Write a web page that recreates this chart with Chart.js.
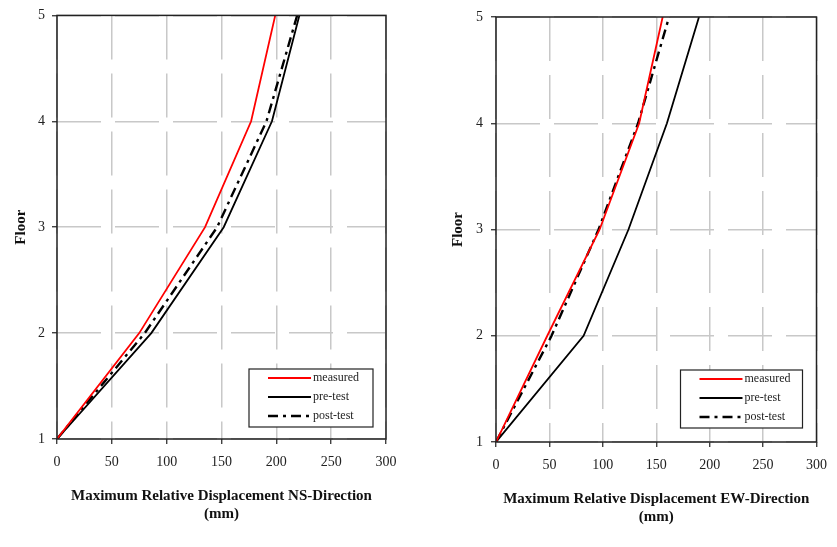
<!DOCTYPE html>
<html>
<head>
<meta charset="utf-8">
<script src="https://cdn.jsdelivr.net/npm/chart.js@4.4.1/dist/chart.umd.min.js"></script>
<style>
  html, body { margin: 0; padding: 0; background: #fff; }
  #wrap { position: relative; width: 837px; height: 547px; }
  #ns { position: absolute; left: 0; top: 0; }
  #ew { position: absolute; left: 420px; top: 0; }
</style>
</head>
<body>
<div id="wrap">
  <canvas id="ns" width="420" height="547"></canvas>
  <canvas id="ew" width="417" height="547"></canvas>
</div>
<script>
// floors (y) and max relative displacement in mm (x)
var floors = [1, 2, 3, 4, 5];
var seriesNames = ["measured", "pre-test", "post-test"];
var nsMeasured = [0, 75, 135, 177, 199];
var nsPreTest = [0, 86, 152, 196, 221];
var nsPostTest = [0, 80, 146, 191, 219];
var ewMeasured = [0, 48, 97, 134, 156];
var ewPreTest = [0, 82, 124, 160, 190];
var ewPostTest = [0, 52, 96, 133, 162];
var xTicks = [0, 50, 100, 150, 200, 250, 300];
var yTicks = [1, 2, 3, 4, 5];

var serif = "'Liberation Serif', 'Times New Roman', serif";

function pts(xs) {
    return xs.map(function (x, i) { return {x: x, y: floors[i]}; });
}

function makeSets(m, pre, post) {
    return [
        {label: seriesNames[0], data: pts(m), borderColor: "#ff0000", borderWidth: 1.8, borderDash: []},
        {label: seriesNames[1], data: pts(pre), borderColor: "#000000", borderWidth: 1.8, borderDash: []},
        {label: seriesNames[2], data: pts(post), borderColor: "#000000", borderWidth: 2.4, borderDash: [10, 5, 3, 5]}
    ];
}

// box around the whole plot area
var framePlugin = {
    id: "frame",
    afterDatasetsDraw: function (chart) {
        var a = chart.chartArea, ctx = chart.ctx;
        ctx.save();
        ctx.strokeStyle = "#222";
        ctx.lineWidth = 1.5;
        ctx.setLineDash([]);
        ctx.strokeRect(a.left, a.top, a.right - a.left, a.bottom - a.top);
        ctx.restore();
    }
};

// legend with a frame, sitting in the lower right of the plot
var boxLegend = {
    id: "boxLegend",
    afterDraw: function (chart, args, o) {
        var a = chart.chartArea, ctx = chart.ctx;
        var x = a.right - o.right - o.width, y = a.bottom - o.bottom - o.height;
        ctx.save();
        ctx.fillStyle = "#fff";
        ctx.fillRect(x, y, o.width, o.height);
        ctx.strokeStyle = "#222";
        ctx.lineWidth = 1.2;
        ctx.strokeRect(x, y, o.width, o.height);
        ctx.font = "12px " + serif;
        ctx.textBaseline = "middle";
        ctx.fillStyle = "#222";
        chart.data.datasets.forEach(function (ds, i) {
            var ly = y + 9 + i * 19;
            ctx.beginPath();
            ctx.strokeStyle = ds.borderColor;
            ctx.lineWidth = ds.borderWidth;
            ctx.setLineDash(ds.borderDash);
            ctx.moveTo(x + 19, ly);
            ctx.lineTo(x + 62, ly);
            ctx.stroke();
            ctx.setLineDash([]);
            ctx.fillText(ds.label, x + 64, ly);
        });
        ctx.restore();
    }
};

function makeChart(id, sets, cfg) {
    return new Chart(document.getElementById(id), {
        type: "line",
        data: {datasets: sets},
        plugins: [framePlugin, boxLegend],
        options: {
            responsive: false,
            animation: false,
            parsing: true,
            elements: {point: {radius: 0}, line: {tension: 0}},
            layout: {padding: {left: 0, right: cfg.padRight, top: cfg.padTop, bottom: 0}},
            plugins: {
                legend: {display: false},
                tooltip: {enabled: false},
                boxLegend: cfg.legend
            },
            scales: {
                x: {
                    type: "linear",
                    min: xTicks[0],
                    max: xTicks[xTicks.length - 1],
                    afterBuildTicks: function (s) { s.ticks = xTicks.map(function (v) { return {value: v}; }); },
                    afterFit: function (s) { s.height = cfg.xHeight; },
                    grid: {color: "#c8c8c8", lineWidth: 1.5, tickLength: 5, tickColor: "#222", tickWidth: 1.2, tickBorderDash: []},
                    border: {display: false, dash: [44, 14]},
                    ticks: {padding: cfg.xPad, color: "#222", font: {family: serif, size: 14}},
                    title: {
                        display: true,
                        text: [cfg.xTitle, "(mm)"],
                        color: "#111",
                        font: {family: serif, size: 15, weight: "bold", lineHeight: 1.2},
                        padding: {top: 0, bottom: cfg.titlePad}
                    }
                },
                y: {
                    type: "linear",
                    min: yTicks[0],
                    max: yTicks[yTicks.length - 1],
                    afterBuildTicks: function (s) { s.ticks = yTicks.map(function (v) { return {value: v}; }); },
                    afterFit: function (s) { s.width = cfg.yWidth; },
                    grid: {color: "#c8c8c8", lineWidth: 1.5, tickLength: 5, tickColor: "#222", tickWidth: 1.2, tickBorderDash: []},
                    border: {display: false, dash: [44, 14]},
                    ticks: {padding: cfg.yPad, color: "#222", font: {family: serif, size: 14}},
                    title: {
                        display: true,
                        text: "Floor",
                        color: "#111",
                        font: {family: serif, size: 15, weight: "bold", lineHeight: 1.2},
                        padding: {top: cfg.floorPad, bottom: 0}
                    }
                }
            }
        }
    });
}

makeChart("ns", makeSets(nsMeasured, nsPreTest, nsPostTest), {
    padRight: 34, padTop: 14, xHeight: 108, yWidth: 57, xPad: 10, yPad: 7,
    titlePad: 24, floorPad: 12,
    xTitle: "Maximum Relative Displacement NS-Direction",
    legend: {width: 124, height: 58, right: 13, bottom: 12}
});

makeChart("ew", makeSets(ewMeasured, ewPreTest, ewPostTest), {
    padRight: 14, padTop: 17, xHeight: 105, yWidth: 76, xPad: 10, yPad: 8,
    titlePad: 21, floorPad: 29,
    xTitle: "Maximum Relative Displacement EW-Direction",
    legend: {width: 122, height: 58, right: 14, bottom: 14}
});
</script>
</body>
</html>
